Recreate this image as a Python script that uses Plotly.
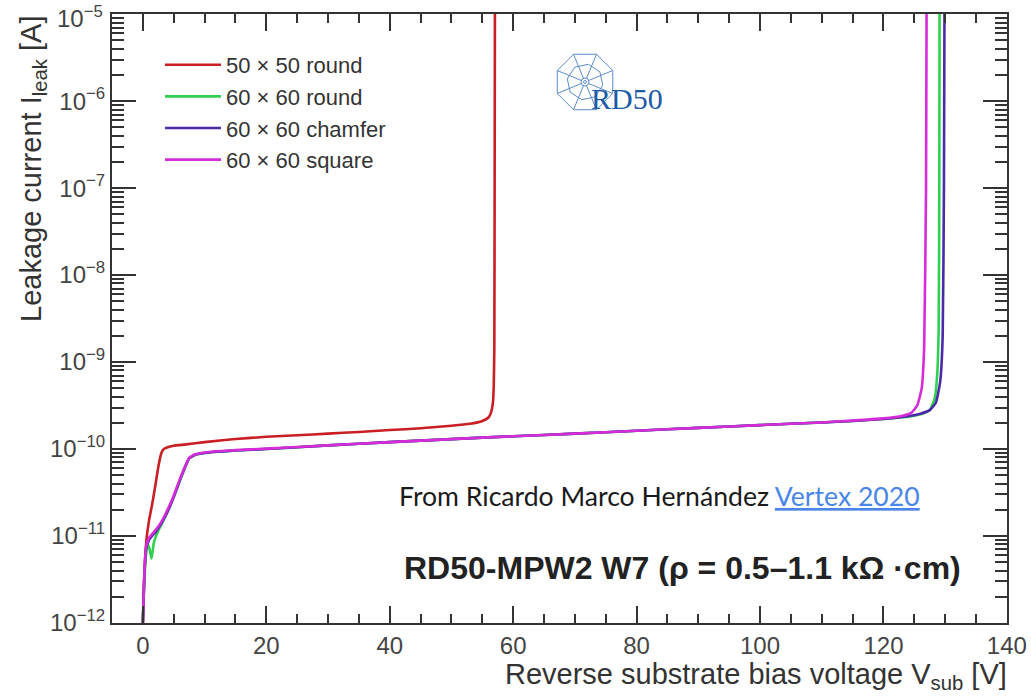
import math
import plotly.graph_objects as go

# Reverse bias voltage [V] and leakage current [A] for each pixel geometry
v_50_round = [0, 0.2, 0.4, 0.65, 1.0, 1.5, 2.0, 2.5, 3.0, 3.4, 4.4, 5, 7, 10, 15, 20, 25, 30,
              35, 40, 45, 50, 53, 55, 56, 56.4, 56.7, 56.85, 56.95, 57.0, 57.05]
i_50_round = [1e-12, 3e-12, 6e-12, 1e-11, 1.5e-11, 2.3e-11, 3.7e-11, 6.2e-11, 9e-11, 1.0e-10,
              1.07e-10, 1.09e-10, 1.13e-10, 1.2e-10, 1.3e-10, 1.38e-10, 1.44e-10, 1.5e-10,
              1.57e-10, 1.65e-10, 1.73e-10, 1.85e-10, 1.95e-10, 2.1e-10, 2.3e-10, 2.6e-10,
              3.3e-10, 5e-10, 1.5e-9, 1e-7, 2e-5]

v_60_round = [0, 0.2, 0.5, 0.8, 1.1, 1.4, 1.8, 2.5, 3, 4, 5, 6, 7, 7.5, 8.5, 10, 12, 15, 20,
              30, 40, 50, 60, 70, 80, 90, 100, 110, 115, 120, 124, 126, 127.5, 128.3, 128.7,
              128.95, 129.05, 129.1]
i_60_round = [1e-12, 2.5e-12, 6e-12, 8e-12, 7e-12, 5.5e-12, 8.5e-12, 1.15e-11, 1.35e-11,
              1.9e-11, 2.8e-11, 4.3e-11, 6.5e-11, 7.8e-11, 8.6e-11, 9.0e-11, 9.3e-11, 9.6e-11,
              1.0e-10, 1.1e-10, 1.2e-10, 1.3e-10, 1.4e-10, 1.5e-10, 1.62e-10, 1.75e-10,
              1.88e-10, 2.02e-10, 2.1e-10, 2.22e-10, 2.35e-10, 2.5e-10, 2.8e-10, 3.8e-10,
              7e-10, 2.5e-9, 1e-7, 2e-5]

v_60_chamfer = [0, 0.2, 0.5, 1.0, 1.5, 2, 3, 4, 5, 6, 7, 7.5, 8.5, 10, 12, 15, 20, 30, 40,
                50, 60, 70, 80, 90, 100, 110, 115, 120, 124, 126, 127.5, 128.5, 129.2,
                129.6, 129.8, 129.9]
i_60_chamfer = [1e-12, 3e-12, 7e-12, 9e-12, 1.0e-11, 1.1e-11, 1.4e-11, 1.9e-11, 2.8e-11,
                4.4e-11, 6.6e-11, 7.8e-11, 8.6e-11, 9.0e-11, 9.3e-11, 9.6e-11, 1.0e-10,
                1.1e-10, 1.2e-10, 1.3e-10, 1.4e-10, 1.5e-10, 1.62e-10, 1.75e-10, 1.88e-10,
                2.02e-10, 2.1e-10, 2.22e-10, 2.38e-10, 2.55e-10, 2.8e-10, 3.4e-10, 6e-10,
                2e-9, 1e-7, 2e-5]

v_60_square = [0, 0.2, 0.5, 1.0, 1.5, 2, 3, 4, 5, 6, 7, 7.5, 8.5, 10, 12, 15, 20, 30, 40,
               50, 60, 70, 80, 90, 100, 110, 115, 120, 123, 124.5, 125.5, 126.2, 126.6,
               126.9, 127.0]
i_60_square = [1e-12, 3e-12, 7.5e-12, 9.5e-12, 1.05e-11, 1.15e-11, 1.45e-11, 2.0e-11,
               2.9e-11, 4.5e-11, 6.7e-11, 7.9e-11, 8.7e-11, 9.1e-11, 9.4e-11, 9.7e-11,
               1.01e-10, 1.1e-10, 1.2e-10, 1.3e-10, 1.4e-10, 1.5e-10, 1.62e-10, 1.75e-10,
               1.88e-10, 2.02e-10, 2.12e-10, 2.25e-10, 2.4e-10, 2.6e-10, 3.2e-10, 5e-10,
               1.5e-9, 1e-7, 2e-5]

series = [
    ("50 \u00d7 50 round", v_50_round, i_50_round, "#c81e24"),
    ("60 \u00d7 60 round", v_60_round, i_60_round, "#2fd04f"),
    ("60 \u00d7 60 chamfer", v_60_chamfer, i_60_chamfer, "#4b2aa8"),
    ("60 \u00d7 60 square", v_60_square, i_60_square, "#d52bd8"),
]

decades = list(range(-12, -4))
y_tickvals = [10.0 ** d for d in decades]
y_labels = ["10<sup>\u2212%d</sup>" % (-d) for d in decades]
# the topmost decade label sits at the frame edge; it is placed as an annotation below
y_ticktext = y_labels[:-1] + [""]
y_minor = [k * 10.0 ** d for d in decades[:-1] for k in range(2, 10)]

x_tickvals = [0, 20, 40, 60, 80, 100, 120, 140]

fig = go.Figure()
for k, (name, v, i, col) in enumerate(series):
    fig.add_trace(go.Scatter(
        x=v, y=i, mode="lines", name=name, legendgroup=str(k),
        line=dict(color=col, width=2.6, shape="spline", smoothing=0.4),
    ))

AX = "#333333"
tick_font = dict(family="Liberation Sans, Arial, sans-serif", size=24, color="#444444")

fig.update_xaxes(
    range=[-5, 140.02], tickmode="array", tickvals=x_tickvals,
    ticks="inside", ticklen=17, tickwidth=2, tickcolor=AX,
    showline=True, linecolor=AX, linewidth=2, mirror="allticks",
    showgrid=False, zeroline=False, tickfont=tick_font, ticklabeloverflow="allow",
    automargin=False,
    minor=dict(dtick=5, tick0=0, ticks="inside", ticklen=9, tickwidth=2,
               tickcolor=AX, showgrid=False),
)
fig.update_yaxes(
    type="log", range=[-12.001, -4.998], tickmode="array", tickvals=y_tickvals,
    ticktext=y_ticktext,
    ticks="inside", ticklen=24, tickwidth=2, tickcolor=AX,
    showline=True, linecolor=AX, linewidth=2, mirror="allticks",
    showgrid=False, zeroline=False, tickfont=tick_font, ticklabeloverflow="allow",
    automargin=False,
    minor=dict(tickmode="array", tickvals=y_minor, ticks="inside", ticklen=12,
               tickwidth=2, tickcolor=AX, showgrid=False),
)

L, R, T, B = 112, 24, 14, 74
W, H = 1031, 697
pw, ph = W - L - R, H - T - B


def px(xp):
    return (xp - L) / pw


def py(yp):
    return (H - B - yp) / ph


annotations = [
    dict(text=y_labels[-1], x=px(105), y=py(0), xref="paper", yref="paper",
         xanchor="right", yanchor="top", showarrow=False, font=tick_font),
    dict(text="Leakage current I<sub>leak</sub> [A]", textangle=-90,
         x=px(33), y=1.0, xref="paper", yref="paper", xanchor="center", yanchor="top",
         showarrow=False, font=dict(family="Liberation Sans, Arial", size=29, color="#333333")),
    dict(text="Reverse substrate bias voltage V<sub>sub</sub> [V]",
         x=px(1009), y=py(676), xref="paper", yref="paper", xanchor="right", yanchor="middle",
         showarrow=False, font=dict(family="Liberation Sans, Arial", size=29, color="#333333")),
    dict(text="From Ricardo Marco Hern\u00e1ndez "
              "<a href=\"https://indico.cern.ch/event/895924/\" "
              "style=\"color:#4a86e8;text-decoration:underline\">Vertex 2020</a>",
         x=px(659), y=py(496), xref="paper", yref="paper", xanchor="center", yanchor="middle",
         showarrow=False, font=dict(family="Lato, sans-serif", size=26.6, color="#1a1a1a")),
    dict(text="<b>RD50-MPW2 W7 (\u03c1 = 0.5\u20131.1 k\u03a9 \u00b7cm)</b>",
         x=px(682), y=py(568), xref="paper", yref="paper", xanchor="center", yanchor="middle",
         showarrow=False, font=dict(family="Liberation Sans, Arial", size=32, color="#222222")),
    dict(text="RD50", x=px(627), y=py(98), xref="paper", yref="paper",
         xanchor="center", yanchor="middle", showarrow=False,
         font=dict(family="Liberation Serif, DejaVu Serif, serif", size=30, color="#1d5aa6")),
]

# RD50 emblem: an octagonal web of rings and spokes around a small target
logo_col = "#5b8bc9"
cx, cy = 585, 82
angles = [22.5 + 45 * k for k in range(8)]
shapes = []


def ring(r, rot=0.0):
    pts = [(cx + r * math.cos(math.radians(a + rot)), cy - r * math.sin(math.radians(a + rot)))
           for a in angles]
    return "M " + " L ".join("%.4f,%.4f" % (px(x), py(y)) for x, y in pts) + " Z"


for r, rot in ((30, 0), (18, 12)):
    shapes.append(dict(type="path", path=ring(r, rot), xref="paper", yref="paper",
                       line=dict(color=logo_col, width=1)))
for a in angles:
    x1 = cx + 30 * math.cos(math.radians(a))
    y1 = cy - 30 * math.sin(math.radians(a))
    x0 = cx + 4 * math.cos(math.radians(a))
    y0 = cy - 4 * math.sin(math.radians(a))
    shapes.append(dict(type="line", x0=px(x0), y0=py(y0), x1=px(x1), y1=py(y1),
                       xref="paper", yref="paper", line=dict(color=logo_col, width=1)))
for r in (4, 1.5):
    shapes.append(dict(type="circle", x0=px(cx - r), x1=px(cx + r), y0=py(cy + r),
                       y1=py(cy - r), xref="paper", yref="paper",
                       line=dict(color=logo_col, width=1)))

fig.update_layout(
    width=W, height=H,
    margin=dict(l=L, r=R, t=T, b=B, autoexpand=False),
    paper_bgcolor="white", plot_bgcolor="white",
    legend=dict(x=px(160), y=py(44), xanchor="left", yanchor="top",
                bgcolor="rgba(0,0,0,0)", traceorder="grouped", tracegroupgap=0,
                font=dict(family="Liberation Sans, Arial", size=22, color="#333333"),
                itemwidth=56),
    annotations=annotations,
    shapes=shapes,
)

fig.write_html("out.html")
